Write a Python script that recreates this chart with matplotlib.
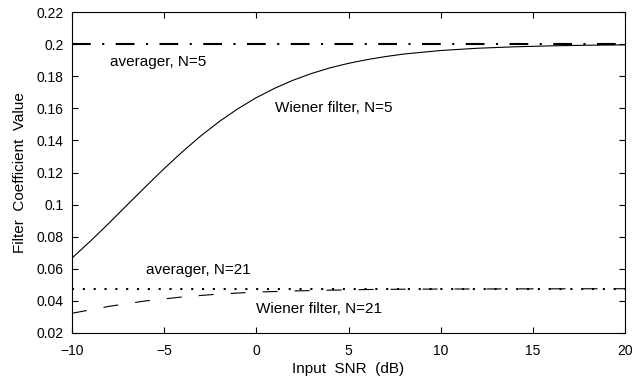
import matplotlib.pyplot as plt
import numpy as np

plt.rcParams['font.family'] = ['Liberation Sans', 'DejaVu Sans']

# Data
snr_db = [-10, -9, -8, -7, -6, -5, -4, -3, -2, -1, 0, 1, 2, 3, 4, 5, 6, 7, 8, 10, 12, 14, 16, 18, 20]
wiener_n5 = [0.0667, 0.0773, 0.0884, 0.0999, 0.1113, 0.1225, 0.1331, 0.1430, 0.1519, 0.1598,
             0.1667, 0.1726, 0.1776, 0.1818, 0.1853, 0.1881, 0.1904, 0.1923, 0.1939, 0.1961,
             0.1975, 0.1984, 0.1990, 0.1994, 0.1996]
snr_db_21 = [-10, -8, -6, -4, -2, 0, 2, 4, 6, 8, 10, 14, 20]
wiener_n21 = [0.0323, 0.0366, 0.0400, 0.0425, 0.0443, 0.0455, 0.0462, 0.0467, 0.0471, 0.0473,
              0.0474, 0.0475, 0.0476]
avg_range = [-10, 20]
avg_n5 = 0.2
avg_n21 = 0.0476

fig = plt.figure(figsize=(6.39, 3.80), dpi=100)
ax = fig.add_axes([0.1127, 0.1237, 0.8654, 0.8443])

ax.plot(avg_range, [avg_n5, avg_n5], color='black', lw=1.5, dashes=(9, 5.5, 1, 5.5))
ax.plot(avg_range, [avg_n21, avg_n21], color='black', lw=1.5, dashes=(1, 4.2))
ax.plot(snr_db, wiener_n5, color='black', lw=0.8)
ax.plot(snr_db_21, wiener_n21, color='black', lw=0.8, dashes=(13.5, 15.3))

ax.text(-7.94, 0.1888, 'averager, N=5', fontsize=11, va='center')
ax.text(1.01, 0.160, 'Wiener filter, N=5', fontsize=11, va='center')
ax.text(-5.99, 0.0593, 'averager, N=21', fontsize=11, va='center')
ax.text(-0.02, 0.035, 'Wiener filter, N=21', fontsize=11, va='center')

ax.set_xlim(-10, 20)
ax.set_ylim(0.02, 0.22)
ax.set_xticks(np.arange(-10, 21, 5))
ax.set_yticks(np.arange(0.02, 0.2201, 0.02))
ax.set_xticklabels(['\u221210', '\u22125', '0', '5', '10', '15', '20'])
ax.set_yticklabels(['0.02', '0.04', '0.06', '0.08', '0.1', '0.12', '0.14', '0.16', '0.18', '0.2', '0.22'])
ax.tick_params(direction='in', top=True, right=True, length=4, labelsize=10, pad=6)
ax.tick_params(axis='x', pad=8)
ax.set_xlabel('Input  SNR  (dB)', fontsize=11, labelpad=3)
ax.set_ylabel('Filter  Coefficient  Value', fontsize=11, labelpad=7)

fig.savefig('out.png', dpi=100)
